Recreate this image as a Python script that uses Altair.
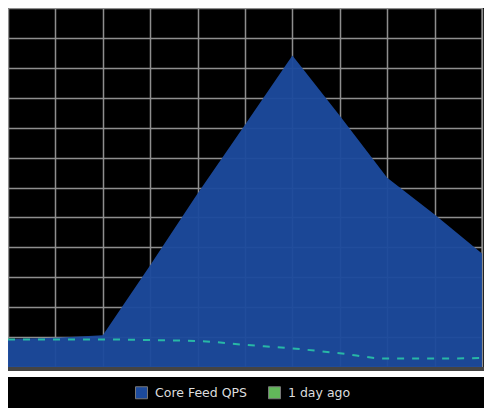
import altair as alt
import pandas as pd

# x positions (grid columns) and values (grid units)
x_vals = [0, 1, 2, 3, 4, 5, 6, 7, 8, 9, 10]
core_feed_qps = [0.94, 0.98, 1.06, 3.4, 5.8, 8.1, 10.41, 8.4, 6.33, 5.1, 3.79]
day_ago = [0.92, 0.92, 0.92, 0.9, 0.87, 0.74, 0.62, 0.46, 0.28, 0.28, 0.3]
series_names = ["Core Feed QPS", "1 day ago"]
series_colors = ["#1c4a9c", "#62b85a"]

W, H = 474, 359

df = pd.DataFrame(
    {"x": x_vals * 2,
     "value": core_feed_qps + day_ago,
     "series": [series_names[0]] * len(x_vals) + [series_names[1]] * len(x_vals)}
)


def xenc():
    return alt.X("x:Q", scale=alt.Scale(domain=[0, 10], nice=False),
                 axis=alt.Axis(values=list(range(11)), labels=False, ticks=False,
                               domain=False, title=None, grid=True,
                               gridColor="#8e8e8e", gridWidth=1.5))


def yenc():
    return alt.Y("value:Q", scale=alt.Scale(domain=[0, 12], nice=False),
                 axis=alt.Axis(values=list(range(13)), labels=False, ticks=False,
                               domain=False, title=None, grid=True,
                               gridColor="#8e8e8e", gridWidth=1.5))


base = alt.Chart(df)

area = base.transform_filter(alt.datum.series == series_names[0]).mark_area(
    opacity=0.96, line=False
).encode(
    x=xenc(), y=yenc(),
    color=alt.Color("series:N",
                    scale=alt.Scale(domain=series_names, range=series_colors),
                    legend=alt.Legend(orient="none", legendX=127, legendY=378,
                                      direction="horizontal", title=None,
                                      symbolType="square", symbolSize=144,
                                      symbolStrokeColor="#777777",
                                      symbolStrokeWidth=1, symbolOpacity=1,
                                      labelColor="#dddddd", labelFont="DejaVu Sans",
                                      labelFontSize=12.5, labelOffset=7,
                                      columnPadding=18)),
)

line = base.transform_filter(alt.datum.series == series_names[1]).mark_line(
    strokeDash=[7, 8], strokeWidth=2, interpolate="monotone"
).encode(x=xenc(), y=yenc(), color=alt.value("#28b8a6"))

strip = alt.Chart(df).mark_rule(color="white", strokeWidth=6).encode(
    x=alt.value(0), x2=alt.value(W + 2), y=alt.value(H + 7)
)
bottom_line = alt.Chart(df).mark_rule(color="#444444", strokeWidth=3).encode(
    x=alt.value(0), x2=alt.value(W + 2), y=alt.value(H + 2)
)

chart = alt.layer(area, line, bottom_line, strip).properties(
    width=W, height=H, background="black",
    autosize=alt.AutoSizeParams(type="none"),
    padding={"left": 0, "top": 0, "right": 2, "bottom": 41}
).configure_view(stroke="#555555", strokeWidth=2)

chart.save("out.html", embed_options={"renderer": "svg", "actions": False})
